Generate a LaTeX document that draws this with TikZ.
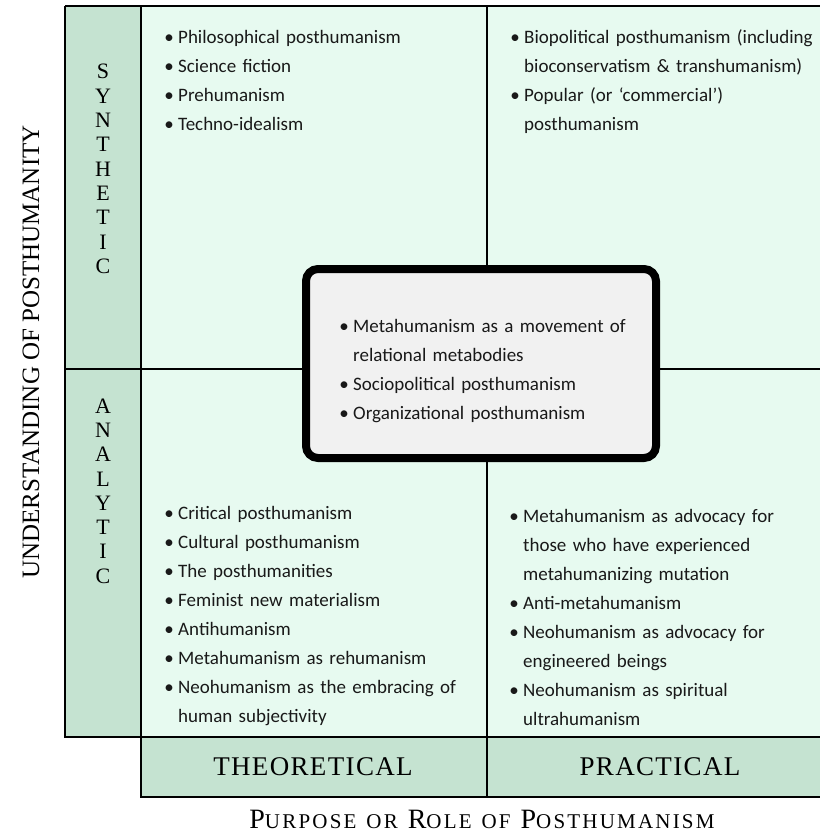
\documentclass[tikz,border=0pt]{standalone}
\usepackage{fontspec}
\usepackage{graphicx}
\newfontfamily\bodyfont{Carlito}
\newfontfamily\labfont{Liberation Serif}
\definecolor{colg}{HTML}{C5E3D1}
\definecolor{quadc}{HTML}{E7FAF0}
\definecolor{boxg}{HTML}{F1F1F1}
\newcommand\bu{\leavevmode\rlap{\makebox[8pt][c]{\textbullet}}\hspace*{13pt}}
\newcommand\ind{\leavevmode\hspace*{13pt}}
\newcommand\st{\rule{0pt}{16pt}}
\newcommand\smc[2]{#1{\fontsize{21}{21}\selectfont #2}}
\begin{document}
\begin{tikzpicture}[x=1pt,y=-1pt,
  gridline/.style={line width=2.2pt, black},
  lst/.style={anchor=north west, inner sep=0pt, text width=330pt, align=left,
    font=\bodyfont\fontsize{19}{29}\selectfont, text=black!90},
  vlet/.style={inner sep=0pt, align=center, font=\labfont\fontsize{22}{24.3}\selectfont},
  caplabel/.style={inner sep=0pt, font=\labfont\fontsize{27}{27}\selectfont\addfontfeature{LetterSpace=5}}]
\useasboundingbox (0,0) rectangle (820,838);
\fill[white] (0,0) rectangle (820,838);
% fills
\fill[quadc] (141,6) rectangle (820,737);
\fill[colg] (65,6) rectangle (141,737);
\fill[colg] (141,737) rectangle (820,797);
% grid lines
\draw[gridline] (65,6) -- (820,6);
\draw[gridline] (65,6) -- (65,737) -- (141,737);
\draw[gridline] (141,6) -- (141,797) -- (820,797);
\draw[gridline] (141,737) -- (820,737);
\draw[gridline] (65,369) -- (820,369);
\draw[gridline] (487,6) -- (487,797);
% centre box
\node[draw, line width=8pt, rounded corners=12pt, fill=boxg,
  minimum width=350pt, minimum height=189pt, inner sep=0pt] (centre) at (481,363.5) {};
% lists
\node[lst] (tl) at (165,27) {\st\bu Philosophical posthumanism\\
\bu Science fiction\\
\bu Prehumanism\\
\bu Techno-idealism};
\node[lst] (tr) at (511,27) {\st\bu Biopolitical posthumanism (including\\
\ind bioconservatism \& transhumanism)\\
\bu Popular (or ‘commercial’)\\
\ind posthumanism};
\node[lst] (cl) at (340,316) {\st\bu Metahumanism as a movement of\\
\ind relational metabodies\\
\bu Sociopolitical posthumanism\\
\bu Organizational posthumanism};
\node[lst] (bl) at (165,503) {\st\bu Critical posthumanism\\
\bu Cultural posthumanism\\
\bu The posthumanities\\
\bu Feminist new materialism\\
\bu Antihumanism\\
\bu Metahumanism as rehumanism\\
\bu Neohumanism as the embracing of\\
\ind human subjectivity};
\node[lst] (br) at (510,506) {\st\bu Metahumanism as advocacy for\\
\ind those who have experienced\\
\ind metahumanizing mutation\\
\bu Anti-metahumanism\\
\bu Neohumanism as advocacy for\\
\ind engineered beings\\
\bu Neohumanism as spiritual\\
\ind ultrahumanism};
% side letters
\node[vlet] (syn) at (103,169) {S\\Y\\N\\T\\H\\E\\T\\I\\C};
\node[vlet] (ana) at (103,491) {A\\N\\A\\L\\Y\\T\\I\\C};
% bottom labels
\node[caplabel] (theo) at (313,767) {THEORETICAL};
\node[caplabel] (prac) at (660,767) {PRACTICAL};
% axis titles
\node[inner sep=0pt, rotate=90, font=\labfont\fontsize{25}{25}\selectfont] (ytitle) at (31,352)
  {UNDERSTANDING OF POSTHUMANITY};
\node[inner sep=0pt, font=\labfont\fontsize{28}{28}\selectfont\addfontfeature{LetterSpace=10.5}] (xtitle) at (482,819)
  {\smc{P}{URPOSE} \smc{}{OR} \smc{R}{OLE} \smc{}{OF} \smc{P}{OSTHUMANISM}};
\end{tikzpicture}
\end{document}
